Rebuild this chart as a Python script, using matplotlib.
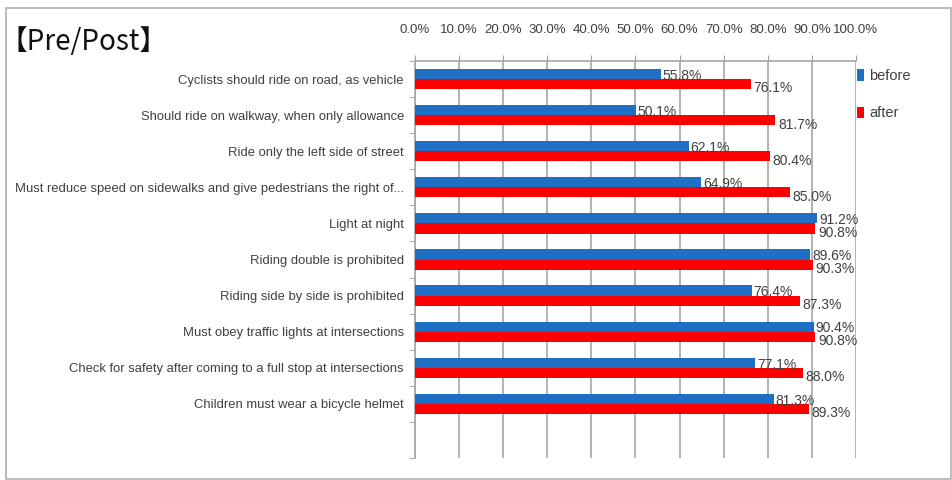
import matplotlib
matplotlib.use("Agg")
import matplotlib.pyplot as plt
from matplotlib.patches import Rectangle
import numpy as np

categories = [
    "Cyclists should ride on road, as vehicle",
    "Should ride on walkway, when only allowance",
    "Ride only the left side of street",
    "Must reduce speed on sidewalks and give pedestrians the right of...",
    "Light at night",
    "Riding double is prohibited",
    "Riding side by side is prohibited",
    "Must obey traffic lights at intersections",
    "Check for safety after coming to a full stop at intersections",
    "Children must wear a bicycle helmet",
    "",
]
before = [55.8, 50.1, 62.1, 64.9, 91.2, 89.6, 76.4, 90.4, 77.1, 81.3, None]
after = [76.1, 81.7, 80.4, 85.0, 90.8, 90.3, 87.3, 90.8, 88.0, 89.3, None]
xticks = list(range(0, 101, 10))
series_names = ["before", "after"]

FONT = ["Liberation Sans Narrow", "Liberation Sans", "DejaVu Sans"]
plt.rcParams["font.family"] = FONT
plt.rcParams["font.stretch"] = "condensed"
TXT = "#404040"
BLUE = "#1f6fc4"
RED = "#ff0000"

fig = plt.figure(figsize=(9.53, 4.80), dpi=100)
ax = fig.add_axes([415 / 953, 1 - 458 / 480, (856 - 415) / 953, (458 - 61) / 480])

n = len(categories)
y = np.arange(n)
h = 0.28
bv = [v if v is not None else 0 for v in before]
av = [v if v is not None else 0 for v in after]
bars_b = ax.barh(y - h / 2, bv, height=h, color=BLUE, label=series_names[0], zorder=3)
bars_a = ax.barh(y + h / 2, av, height=h, color=RED, label=series_names[1], zorder=3)

for i in range(n):
    if before[i] is not None:
        ax.text(before[i] + 0.4, y[i] - h / 2 + 0.05, f"{before[i]:.1f}%", va="center", ha="left",
                fontsize=10, color=TXT, zorder=4)
    if after[i] is not None:
        ax.text(after[i] + 0.6, y[i] + h / 2 + 0.12, f"{after[i]:.1f}%", va="center", ha="left",
                fontsize=10, color=TXT, zorder=4)

ax.set_xlim(0, 100)
ax.set_ylim(n - 0.5, -0.5)
ax.set_xticks(xticks)
ax.set_xticklabels([f"{t:.1f}%" for t in xticks], fontsize=9.5, color=TXT)
ax.xaxis.tick_top()
ax.tick_params(axis="x", length=4, color="#a0a0a0", pad=14)
ax.grid(axis="x", color="#a6a6a6", linewidth=1.2, zorder=0)

ax.set_yticks(y)
ax.set_yticklabels(categories, fontsize=9.4, color=TXT)
ax.tick_params(axis="y", length=0, pad=8)
ax.set_yticks(np.arange(n + 1) - 0.5, minor=True)
ax.tick_params(axis="y", which="minor", length=4, color="#a0a0a0")

for s in ["right", "bottom"]:
    ax.spines[s].set_visible(False)
for s in ["left", "top"]:
    ax.spines[s].set_color("#a6a6a6")
    ax.spines[s].set_linewidth(1.2)

leg = fig.legend(handles=[bars_b, bars_a], labels=series_names, loc="upper left",
                 bbox_to_anchor=(844 / 953, 1 - 56 / 480), frameon=False,
                 fontsize=10.5, handlelength=0.45, handleheight=0.8, handletextpad=0.4,
                 labelspacing=1.6)
for t in leg.get_texts():
    t.set_color(TXT)

fig.text(0 / 953, 1 - 42 / 480, "【Pre/Post】", fontsize=20, va="center", ha="left",
         color="#111111", family=["Noto Sans CJK JP", "DejaVu Sans"])

fig.patches.append(Rectangle((6 / 953, 1 / 480), 945 / 953, 471 / 480, transform=fig.transFigure,
                             fill=False, edgecolor="#b0b0b0", linewidth=1.2))

fig.savefig("out.png", dpi=100)
